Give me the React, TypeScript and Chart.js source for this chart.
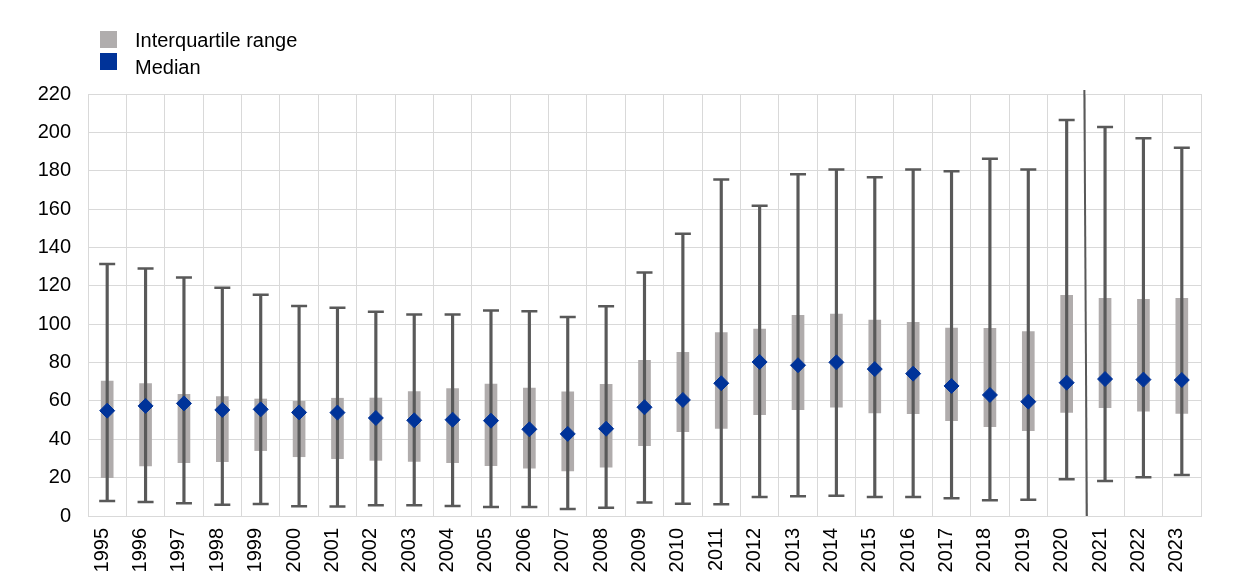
import React, { useEffect, useRef } from "react";
import { Chart, registerables } from "chart.js";

Chart.register(...registerables);

const years: string[] = [
  "1995", "1996", "1997", "1998", "1999", "2000", "2001", "2002", "2003", "2004",
  "2005", "2006", "2007", "2008", "2009", "2010", "2011", "2012", "2013", "2014",
  "2015", "2016", "2017", "2018", "2019", "2020", "2021", "2022", "2023",
];

const maxValues: number[] = [
  131.4, 129.0, 124.3, 119.0, 115.4, 109.5, 108.6, 106.5, 105.1, 105.1,
  107.1, 106.7, 103.8, 109.3, 126.9, 147.2, 175.4, 161.8, 178.2, 180.6,
  176.6, 180.7, 179.7, 186.3, 180.6, 206.5, 202.8, 196.9, 192.0,
];

const minValues: number[] = [
  7.8, 7.3, 6.6, 5.9, 6.3, 5.1, 4.9, 5.6, 5.6, 5.2,
  4.7, 4.7, 3.6, 4.3, 7.1, 6.4, 6.1, 9.9, 10.3, 10.6,
  9.9, 9.9, 9.2, 8.2, 8.5, 19.1, 18.2, 20.2, 21.4,
];

const q3Values: number[] = [
  70.4, 69.0, 63.4, 62.2, 61.0, 59.8, 61.4, 61.5, 64.8, 66.4,
  68.8, 66.7, 64.7, 68.7, 81.2, 85.3, 95.6, 97.5, 104.6, 105.3,
  102.2, 101.0, 98.0, 97.9, 96.1, 115.1, 113.5, 113.0, 113.5,
];

const q1Values: number[] = [
  20.0, 26.1, 27.8, 28.3, 34.1, 30.9, 29.9, 29.0, 28.5, 27.8,
  26.2, 24.9, 23.5, 25.4, 36.7, 44.0, 45.7, 52.8, 55.4, 56.7,
  53.7, 53.4, 49.7, 46.6, 44.5, 54.0, 56.5, 54.7, 53.5,
];

const medianValues: number[] = [
  54.9, 57.4, 58.7, 55.3, 55.6, 54.0, 53.9, 51.1, 49.9, 50.2,
  49.7, 45.2, 42.8, 45.5, 56.7, 60.5, 69.2, 80.3, 78.6, 80.1,
  76.6, 74.2, 67.8, 63.1, 59.6, 69.5, 71.4, 71.1, 70.9,
];

const legendLabels: string[] = ["Interquartile range", "Median"];
const separatorAfter = "2020";

const GREY = "#b0acac";
const DARK = "#595959";
const BLUE = "#003399";
const GRID = "#d9d9d9";
const FONT = "'Liberation Sans', Arial, sans-serif";

const separatorPlugin = {
  id: "separator",
  afterDatasetsDraw(chart: any) {
    const x = chart.scales.x;
    const area = chart.chartArea;
    const i = years.indexOf(separatorAfter);
    const px = (x.getPixelForValue(i) + x.getPixelForValue(i + 1)) / 2;
    const ctx = chart.ctx;
    ctx.save();
    ctx.strokeStyle = DARK;
    ctx.lineWidth = 2;
    ctx.beginPath();
    ctx.moveTo(px - 1.5, area.top - 4);
    ctx.lineTo(px + 1, area.bottom);
    ctx.stroke();
    ctx.restore();
  },
};

export default function App() {
  const ref = useRef<HTMLCanvasElement | null>(null);

  useEffect(() => {
    if (!ref.current) return;
    const whiskers = years.map((_, i) => [minValues[i], maxValues[i]]);
    const iqr = years.map((_, i) => [q1Values[i], q3Values[i]]);
    const chart = new Chart(ref.current, {
      type: "bar",
      data: {
        labels: years,
        datasets: [
          {
            type: "bar",
            label: legendLabels[0],
            data: iqr as any,
            backgroundColor: GREY,
            barThickness: 12,
            grouped: false,
            order: 4,
          } as any,
          {
            type: "bar",
            label: "whisker",
            data: whiskers as any,
            backgroundColor: DARK,
            barThickness: 2.5,
            grouped: false,
            order: 3,
          } as any,
          {
            type: "line",
            label: "max",
            data: maxValues,
            showLine: false,
            pointStyle: "line",
            pointRadius: 8,
            pointBorderWidth: 2.5,
            pointBorderColor: DARK,
            borderColor: DARK,
            order: 2,
          } as any,
          {
            type: "line",
            label: "min",
            data: minValues,
            showLine: false,
            pointStyle: "line",
            pointRadius: 8,
            pointBorderWidth: 2.5,
            pointBorderColor: DARK,
            borderColor: DARK,
            order: 2,
          } as any,
          {
            type: "line",
            label: legendLabels[1],
            data: medianValues,
            showLine: false,
            pointStyle: "rectRot",
            pointRadius: 7.5,
            pointBorderWidth: 1,
            pointBackgroundColor: BLUE,
            pointBorderColor: BLUE,
            borderColor: BLUE,
            order: 1,
          } as any,
        ],
      },
      options: {
        responsive: false,
        animation: false,
        layout: { padding: { top: 94, right: 39, left: 0, bottom: 0 } },
        plugins: {
          legend: { display: false },
          tooltip: { enabled: false },
        },
        scales: {
          x: {
            offset: true,
            grid: { color: GRID, lineWidth: 1, drawTicks: false, offset: true },
            border: { display: true, color: GRID, width: 1 },
            ticks: {
              color: "#000",
              font: { family: FONT, size: 20 },
              minRotation: 90,
              maxRotation: 90,
              padding: 12,
              labelOffset: -5,
              autoSkip: false,
            },
            afterFit: (s: any) => {
              s.height = 68;
            },
          },
          y: {
            min: 0,
            max: 220,
            grid: { color: GRID, lineWidth: 1, drawTicks: false },
            border: { display: true, color: GRID, width: 1 },
            ticks: {
              stepSize: 20,
              color: "#000",
              font: { family: FONT, size: 20 },
              padding: 17,
            },
            afterFit: (s: any) => {
              s.width = 88;
            },
          },
        },
      },
      plugins: [separatorPlugin],
    });
    return () => chart.destroy();
  }, []);

  const legendText: React.CSSProperties = {
    position: "absolute",
    left: 135,
    fontFamily: FONT,
    fontSize: 20,
    lineHeight: "20px",
    color: "#000",
    whiteSpace: "nowrap",
  };
  const square: React.CSSProperties = {
    position: "absolute",
    left: 100,
    width: 17,
    height: 17,
  };

  return (
    <div style={{ position: "absolute", left: 0, top: 0, width: 1240, height: 584, background: "#fff" }}>
      <canvas ref={ref} width={1240} height={584} style={{ position: "absolute", left: 0, top: 0 }} />
      <div style={{ ...square, top: 31, background: "#b0adad" }} />
      <div style={{ ...square, top: 53, background: BLUE }} />
      <div style={{ ...legendText, top: 30 }}>{legendLabels[0]}</div>
      <div style={{ ...legendText, top: 57 }}>{legendLabels[1]}</div>
    </div>
  );
}
